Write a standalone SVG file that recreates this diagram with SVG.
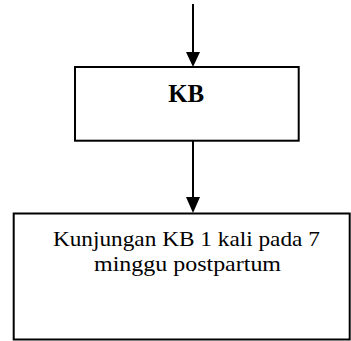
<svg xmlns="http://www.w3.org/2000/svg" width="351" height="341" viewBox="0 0 351 341">
<style>
.box{fill:#fff;stroke:#000;stroke-width:2}
.ln{stroke:#000;stroke-width:2;fill:none}
.hd{fill:#000;stroke:none}
.t{font-family:"Liberation Serif","Times New Roman",serif;fill:#000;text-anchor:middle}
</style>
<rect width="351" height="341" fill="#fff"/>
<g id="connectors">
<line class="ln" x1="193" y1="4" x2="193" y2="53"/>
<polygon class="hd" points="186,52 200,52 193,67"/>
<line class="ln" x1="193" y1="141" x2="193" y2="198"/>
<polygon class="hd" points="186,197 200,197 193,213"/>
</g>
<g id="node-kb">
<rect class="box" x="75" y="67" width="223.7" height="73.7"/>
<text class="t" x="186.2" y="102" font-size="25" font-weight="bold" textLength="36" lengthAdjust="spacingAndGlyphs">KB</text>
</g>
<g id="node-kunjungan">
<rect class="box" x="13.7" y="213.5" width="336" height="126"/>
<text class="t" x="186.4" y="246" font-size="22" textLength="267" lengthAdjust="spacingAndGlyphs">Kunjungan KB 1 kali pada 7</text>
<text class="t" x="187.5" y="270.5" font-size="22" textLength="187" lengthAdjust="spacingAndGlyphs">minggu postpartum</text>
</g>
</svg>
